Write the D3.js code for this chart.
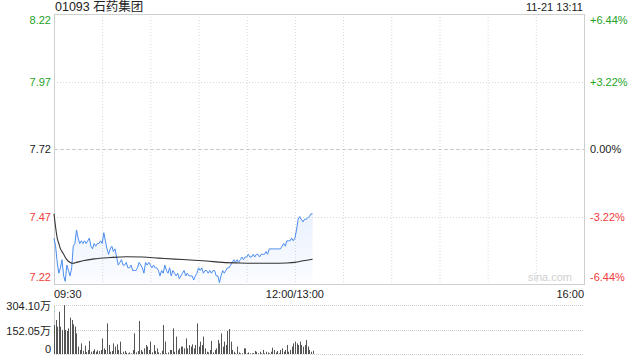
<!DOCTYPE html>
<html lang="zh">
<head>
<meta charset="UTF-8">
<title>01093 石药集团</title>
<style>
  body { margin: 0; background: #fff; }
  svg { display: block; font-family: "Liberation Sans", Arial, "Noto Sans CJK SC", sans-serif; }
</style>
</head>
<body>
<script src="https://cdnjs.cloudflare.com/ajax/libs/d3/7.8.5/d3.min.js"></script>
<script>
const title = "01093 石药集团";
const stamp = "11-21 13:11";
const preClose = 7.72;
const priceTicks = [8.22, 7.97, 7.72, 7.47, 7.22];
const pctTicks = ["+6.44%", "+3.22%", "0.00%", "-3.22%", "-6.44%"];
const timeTicks = [0, 30, 60, 90, 120, 150, 180, 210, 240, 270, 300, 330];
const timeLabels = [[0, "09:30"], [150, "12:00/13:00"], [330, "16:00"]];
const volTicks = [304.10, 152.05, 0];
const volLabels = ["304.10万", "152.05万", "0"];

// price per minute since 09:30 (minute 150 = 12:00, afternoon continues after)
const price = [
  7.39, 7.36, 7.30, 7.26, 7.28, 7.31, 7.25, 7.23, 7.29, 7.27,
  7.25, 7.28, 7.36, 7.37, 7.42, 7.39, 7.37, 7.38, 7.37, 7.38,
  7.37, 7.38, 7.39, 7.36, 7.35, 7.37, 7.36, 7.37, 7.37, 7.38,
  7.37, 7.41, 7.38, 7.35, 7.33, 7.35, 7.36, 7.34, 7.35, 7.32,
  7.29, 7.30, 7.31, 7.29, 7.29, 7.30, 7.28, 7.28, 7.29, 7.27,
  7.27, 7.27, 7.28, 7.30, 7.29, 7.28, 7.26, 7.30, 7.29, 7.30,
  7.29, 7.28, 7.29, 7.28, 7.28, 7.27, 7.25, 7.27, 7.26, 7.29,
  7.27, 7.26, 7.28, 7.25, 7.27, 7.26, 7.25, 7.26, 7.24, 7.25,
  7.26, 7.27, 7.25, 7.26, 7.25, 7.25, 7.25, 7.235, 7.25, 7.26,
  7.28, 7.27, 7.28, 7.26, 7.27, 7.27, 7.26, 7.27, 7.26, 7.27,
  7.27, 7.25, 7.25, 7.225, 7.25, 7.27, 7.26, 7.27, 7.28, 7.28,
  7.29, 7.30, 7.31, 7.30, 7.31, 7.30, 7.31, 7.32, 7.31, 7.32,
  7.32, 7.33, 7.32, 7.32, 7.33, 7.32, 7.33, 7.33, 7.32, 7.33,
  7.33, 7.33, 7.34, 7.33, 7.35, 7.35, 7.35, 7.35, 7.35, 7.35,
  7.35, 7.35, 7.36, 7.37, 7.36, 7.38, 7.38, 7.38, 7.39, 7.38,
  7.39, 7.42, 7.46, 7.47, 7.46, 7.45, 7.46, 7.46, 7.465, 7.47,
  7.48, 7.48
];

// average price line, read at these minutes
const avgMin = [0, 1, 2, 3, 4, 5, 6, 8, 10, 12, 14, 18, 25, 35, 45, 55, 65, 75, 85, 95, 105, 115, 125, 135, 145, 150, 155, 161];
const avgVal = [7.48, 7.43, 7.39, 7.37, 7.35, 7.34, 7.33, 7.31, 7.30, 7.297, 7.30, 7.306, 7.313, 7.318, 7.321, 7.32, 7.316, 7.312, 7.309, 7.305, 7.30, 7.298, 7.297, 7.297, 7.298, 7.30, 7.306, 7.312];

// volume per minute, in 万
const volume = [
  180, 211, 170, 263, 170, 149, 304, 149, 143, 159,
  225, 211, 184, 170, 128, 46, 25, 66, 19, 52,
  12, 25, 81, 14, 19, 29, 14, 23, 19, 25,
  97, 35, 25, 190, 56, 14, 19, 66, 46, 60,
  25, 77, 4, 14, 19, 8, 4, 10, 4, 25,
  128, 10, 19, 205, 25, 14, 35, 56, 46, 25,
  77, 10, 56, 19, 35, 10, 4, 20, 180, 77,
  4, 10, 25, 25, 159, 14, 108, 25, 35, 46,
  46, 35, 97, 35, 56, 46, 60, 35, 56, 190,
  46, 77, 56, 108, 35, 14, 10, 25, 81, 10,
  25, 35, 87, 66, 128, 46, 77, 56, 143, 155,
  77, 25, 14, 4, 46, 10, 4, 4, 35, 35,
  4, 10, 4, 4, 6, 19, 14, 4, 14, 4,
  25, 4, 14, 10, 4, 14, 39, 25, 10, 19,
  4, 25, 35, 14, 25, 56, 14, 25, 46, 66,
  77, 66, 56, 77, 56, 46, 56, 87, 46, 25,
  14, 20
];

const W = 640, H = 360;
const green = "#1fa31f", red = "#f23b3b", blue = "#4a8cf0";

const x = d3.scaleLinear().domain([0, 330]).range([54, 584]);
const y = d3.scaleLinear().domain([7.22, 8.22]).range([284, 14]);
const yv = d3.scaleLinear().domain([0, 304.10]).range([354, 305]);

const svg = d3.select("body").append("svg").attr("width", W).attr("height", H);

const defs = svg.append("defs");
const grad = defs.append("linearGradient").attr("id", "fillGrad")
  .attr("x1", 0).attr("y1", 0).attr("x2", 0).attr("y2", 1);
grad.append("stop").attr("offset", "0%").attr("stop-color", blue).attr("stop-opacity", 0.12);
grad.append("stop").attr("offset", "100%").attr("stop-color", blue).attr("stop-opacity", 0.02);

// vertical grid
svg.append("g").selectAll("line").data(timeTicks.slice(1, -1)).enter().append("line")
  .attr("x1", d => x(d) + 0.5).attr("x2", d => x(d) + 0.5)
  .attr("y1", 14).attr("y2", 284)
  .attr("stroke", "#d8d8d8").attr("stroke-dasharray", "1,2");

// horizontal grid
svg.append("g").selectAll("line").data(priceTicks.slice(1, -1)).enter().append("line")
  .attr("x1", 54).attr("x2", 584)
  .attr("y1", d => Math.round(y(d)) + 0.5).attr("y2", d => Math.round(y(d)) + 0.5)
  .attr("stroke", d => d === preClose ? "#cacaca" : "#d8d8d8")
  .attr("stroke-dasharray", d => d === preClose ? "4,2" : "1,2");

// frame
svg.append("rect").attr("x", 54.5).attr("y", 14.5).attr("width", 530).attr("height", 270)
  .attr("fill", "none").attr("stroke", "#cfcfcf");

// watermark
svg.append("text").attr("x", 550).attr("y", 281).attr("text-anchor", "middle")
  .attr("font-size", 11).attr("fill", "#d0d0d0").text("sina.com");

// price area + line
const pts = price.map((p, i) => [i, p]);
svg.append("path").datum(pts)
  .attr("fill", "url(#fillGrad)")
  .attr("d", d3.area().x(d => x(d[0])).y0(284).y1(d => y(d[1])));
svg.append("path").datum(pts)
  .attr("fill", "none").attr("stroke", blue).attr("stroke-width", 1)
  .attr("d", d3.line().x(d => x(d[0])).y(d => y(d[1])));

// average line
svg.append("path").datum(avgMin.map((m, i) => [m, avgVal[i]]))
  .attr("fill", "none").attr("stroke", "#333").attr("stroke-width", 1.1)
  .attr("d", d3.line().curve(d3.curveMonotoneX).x(d => x(d[0])).y(d => y(d[1])));

// left price labels
const colorFor = v => v > preClose ? green : (v < preClose ? red : "#222");
const labelY = (v, i) => i === 0 ? y(v) + 10 : (i === priceTicks.length - 1 ? y(v) - 3 : y(v) + 4);
svg.append("g").selectAll("text").data(priceTicks).enter().append("text")
  .attr("x", 51).attr("y", (d, i) => labelY(d, i))
  .attr("text-anchor", "end").attr("font-size", 11)
  .attr("fill", d => colorFor(d)).text(d => d.toFixed(2));

svg.append("g").selectAll("text").data(priceTicks).enter().append("text")
  .attr("x", 590).attr("y", (d, i) => labelY(d, i))
  .attr("font-size", 11)
  .attr("fill", d => colorFor(d)).text((d, i) => pctTicks[i]);

// time labels
svg.append("g").selectAll("text").data(timeLabels).enter().append("text")
  .attr("x", d => x(d[0]))
  .attr("y", 298)
  .attr("text-anchor", (d, i) => i === 0 ? "start" : (i === timeLabels.length - 1 ? "end" : "middle"))
  .attr("font-size", 11).attr("fill", "#222").text(d => d[1]);

// title and stamp
svg.append("text").attr("x", 55).attr("y", 11).attr("font-size", 12.5).attr("fill", "#222").text(title);
svg.append("text").attr("x", 583).attr("y", 11).attr("text-anchor", "end").attr("font-size", 11).attr("fill", "#222").text(stamp);

// volume panel
svg.append("g").selectAll("line").data(volTicks).enter().append("line")
  .attr("x1", 54).attr("x2", 584)
  .attr("y1", d => Math.round(yv(d)) + 0.5).attr("y2", d => Math.round(yv(d)) + 0.5)
  .attr("stroke", "#d0d0d0").attr("stroke-dasharray", "1,1");
svg.append("line").attr("x1", 54.5).attr("x2", 54.5).attr("y1", 305).attr("y2", 354)
  .attr("stroke", "#cfcfcf");

svg.append("g").selectAll("rect").data(volume).enter().append("rect")
  .attr("x", (d, i) => Math.round(x(i)))
  .attr("width", 1)
  .attr("y", d => yv(d))
  .attr("height", d => yv(0) - yv(d))
  .attr("fill", "#555");

svg.append("g").selectAll("text").data(volTicks).enter().append("text")
  .attr("x", 51).attr("y", (d, i) => i === volTicks.length - 1 ? yv(d) - 1 : yv(d) + 5)
  .attr("text-anchor", "end").attr("font-size", 11).attr("fill", "#222")
  .text((d, i) => volLabels[i]);
</script>
</body>
</html>
